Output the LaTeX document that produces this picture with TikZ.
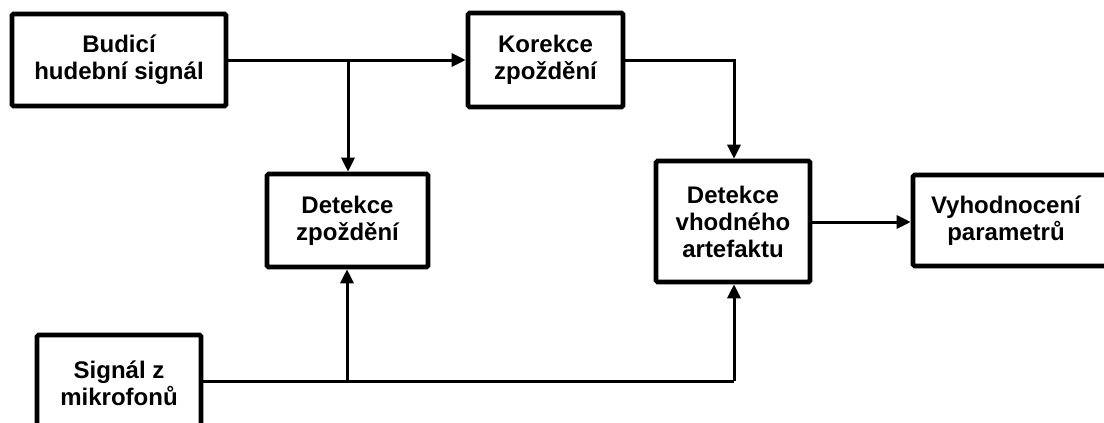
\documentclass[tikz,border=0pt]{standalone}
\usepackage{fontspec}
\setmainfont{Liberation Sans}
\usetikzlibrary{arrows.meta}
\begin{document}
\begin{tikzpicture}[x=1pt,y=-1pt,
  blok/.style={draw, line width=4.6pt, rounded corners=1.5pt, align=center,
    inner sep=0pt, font=\bfseries\fontsize{24}{27}\selectfont},
  spoj/.style={line width=3pt, -{Triangle[length=14pt,width=13pt]}},
  vedeni/.style={line width=3pt}]
  \clip (0,0) rectangle (1104,423);
  % processing blocks
  \node[blok, minimum width=214pt, minimum height=92pt] (budici) at (119,60) {Budicí\\hudební signál};
  \node[blok, minimum width=155pt, minimum height=94pt] (korekce) at (545.5,60) {Korekce\\zpoždění};
  \node[blok, minimum width=161pt, minimum height=93pt] (detzp) at (347.5,220.5) {Detekce\\zpoždění};
  \node[blok, minimum width=154pt, minimum height=121pt] (detart) at (733,221.5) {Detekce\\vhodného\\artefaktu};
  \node[blok, minimum width=198pt, minimum height=91pt] (vyhod) at (1012,220.5) {\hspace*{-12pt}Vyhodnocení\\\hspace*{-12pt}parametrů};
  \node[blok, minimum width=164pt, minimum height=96pt] (mikro) at (119,383) {Signál z\\mikrofonů};
  % branch points
  \coordinate (b1) at (348,60);
  \coordinate (b2) at (734,60);
  \coordinate (b3) at (347,381);
  \coordinate (b4) at (734,381);
  % signal paths
  \draw[spoj] (budici.east |- b1) -- (korekce.west |- b1);
  \draw[spoj] (b1) -- (b1 |- detzp.north);
  \draw[spoj] (korekce.east |- b2) -- (b2) -- (b2 |- detart.north);
  \draw[spoj] (detart.east |- 0,222) -- (vyhod.west |- 0,222);
  \draw[vedeni] (mikro.east |- b3) -- (b4);
  \draw[spoj] (b3) -- (b3 |- detzp.south);
  \draw[spoj] (b4) -- (b4 |- detart.south);
\end{tikzpicture}
\end{document}
